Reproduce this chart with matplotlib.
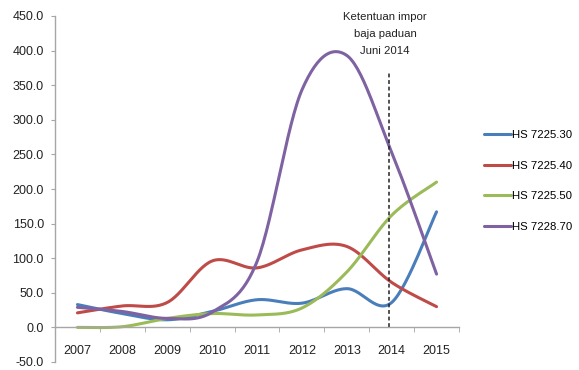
import numpy as np
import matplotlib
matplotlib.use('Agg')
import matplotlib.pyplot as plt

plt.rcParams['font.family'] = ['Liberation Sans', 'DejaVu Sans']

# data
years = ['2007', '2008', '2009', '2010', '2011', '2012', '2013', '2014', '2015']
hs_722530 = [33, 20, 11, 23, 40, 35, 56, 36, 167]
hs_722540 = [21, 31, 36, 96, 86, 112, 117, 65, 30]
hs_722550 = [0, 1, 13, 20, 18, 28, 80, 162, 210]
hs_722870 = [29, 23, 13, 22, 95, 343, 393, 253, 77]
series_names = ['HS 7225.30', 'HS 7225.40', 'HS 7225.50', 'HS 7228.70']
colors = ['#4a7ebb', '#be4b48', '#9bbb59', '#7f62a1']
yticks = [-50, 0, 50, 100, 150, 200, 250, 300, 350, 400, 450]
policy_x = 6.94
policy_top = 368
note = 'Ketentuan impor\nbaja paduan\nJuni 2014'


def smooth(xs, ys, n=30):
    # excel style smoothed line (catmull-rom as cubic bezier)
    xs = np.asarray(xs, float)
    ys = np.asarray(ys, float)
    px = np.concatenate([[xs[0]], xs, [xs[-1]]])
    py = np.concatenate([[ys[0]], ys, [ys[-1]]])
    outx, outy = [], []
    t = np.linspace(0, 1, n)
    for i in range(1, len(px) - 2):
        p0 = np.array([px[i], py[i]])
        p3 = np.array([px[i + 1], py[i + 1]])
        p1 = p0 + (p3 - np.array([px[i - 1], py[i - 1]])) / 6.0
        p2 = p3 - (np.array([px[i + 2], py[i + 2]]) - p0) / 6.0
        b = ((1 - t) ** 3)[:, None] * p0 + (3 * (1 - t) ** 2 * t)[:, None] * p1 \
            + (3 * (1 - t) * t ** 2)[:, None] * p2 + (t ** 3)[:, None] * p3
        outx.extend(b[:, 0])
        outy.extend(b[:, 1])
    return np.array(outx), np.array(outy)


fig = plt.figure(figsize=(5.79, 3.70), dpi=100)
ax = fig.add_axes([55 / 579, 8 / 370, 404 / 579, 346 / 370])

x = np.arange(len(years))
for vals, name, c in zip([hs_722530, hs_722540, hs_722550, hs_722870], series_names, colors):
    sx, sy = smooth(x, vals)
    ax.plot(sx, sy, color=c, lw=2.2, label=name, solid_capstyle='round')

ax.plot([policy_x, policy_x], [0, policy_top], color='#222222', lw=1.1,
        ls=(0, (2.5, 1.8)))
fig.text(385 / 579, 1 - 12 / 370, note, ha='center', va='top', fontsize=8.2,
         linespacing=1.85, color='#222222')

ax.set_xlim(-0.5, len(years) - 0.5)
ax.set_ylim(-50, 450)

ax.spines['top'].set_visible(False)
ax.spines['right'].set_visible(False)
ax.spines['bottom'].set_position(('data', 0))
for s in ('left', 'bottom'):
    ax.spines[s].set_color('#a6a6a6')
    ax.spines[s].set_linewidth(1.0)

ax.set_xticks(x)
ax.set_xticklabels(years)
ax.set_xticks(np.arange(-0.5, len(years), 1.0), minor=True)
ax.tick_params(axis='x', which='major', length=0, pad=12.5, labelsize=9, labelcolor='#222222')
ax.tick_params(axis='x', which='minor', length=3.5, color='#a6a6a6', direction='out')

ax.set_yticks(yticks)
ax.set_yticklabels([f'{v:.1f}' for v in yticks])
ax.tick_params(axis='y', length=3, color='#a6a6a6', pad=5, labelsize=9, labelcolor='#222222')

ax.legend(loc='center left', bbox_to_anchor=(484 / 579, 1 - 181 / 370),
          bbox_transform=fig.transFigure, frameon=False, fontsize=8.2,
          handlelength=2.4, handletextpad=0.1, labelspacing=1.8,
          borderaxespad=0, borderpad=0)

fig.savefig('out.png', dpi=100)
